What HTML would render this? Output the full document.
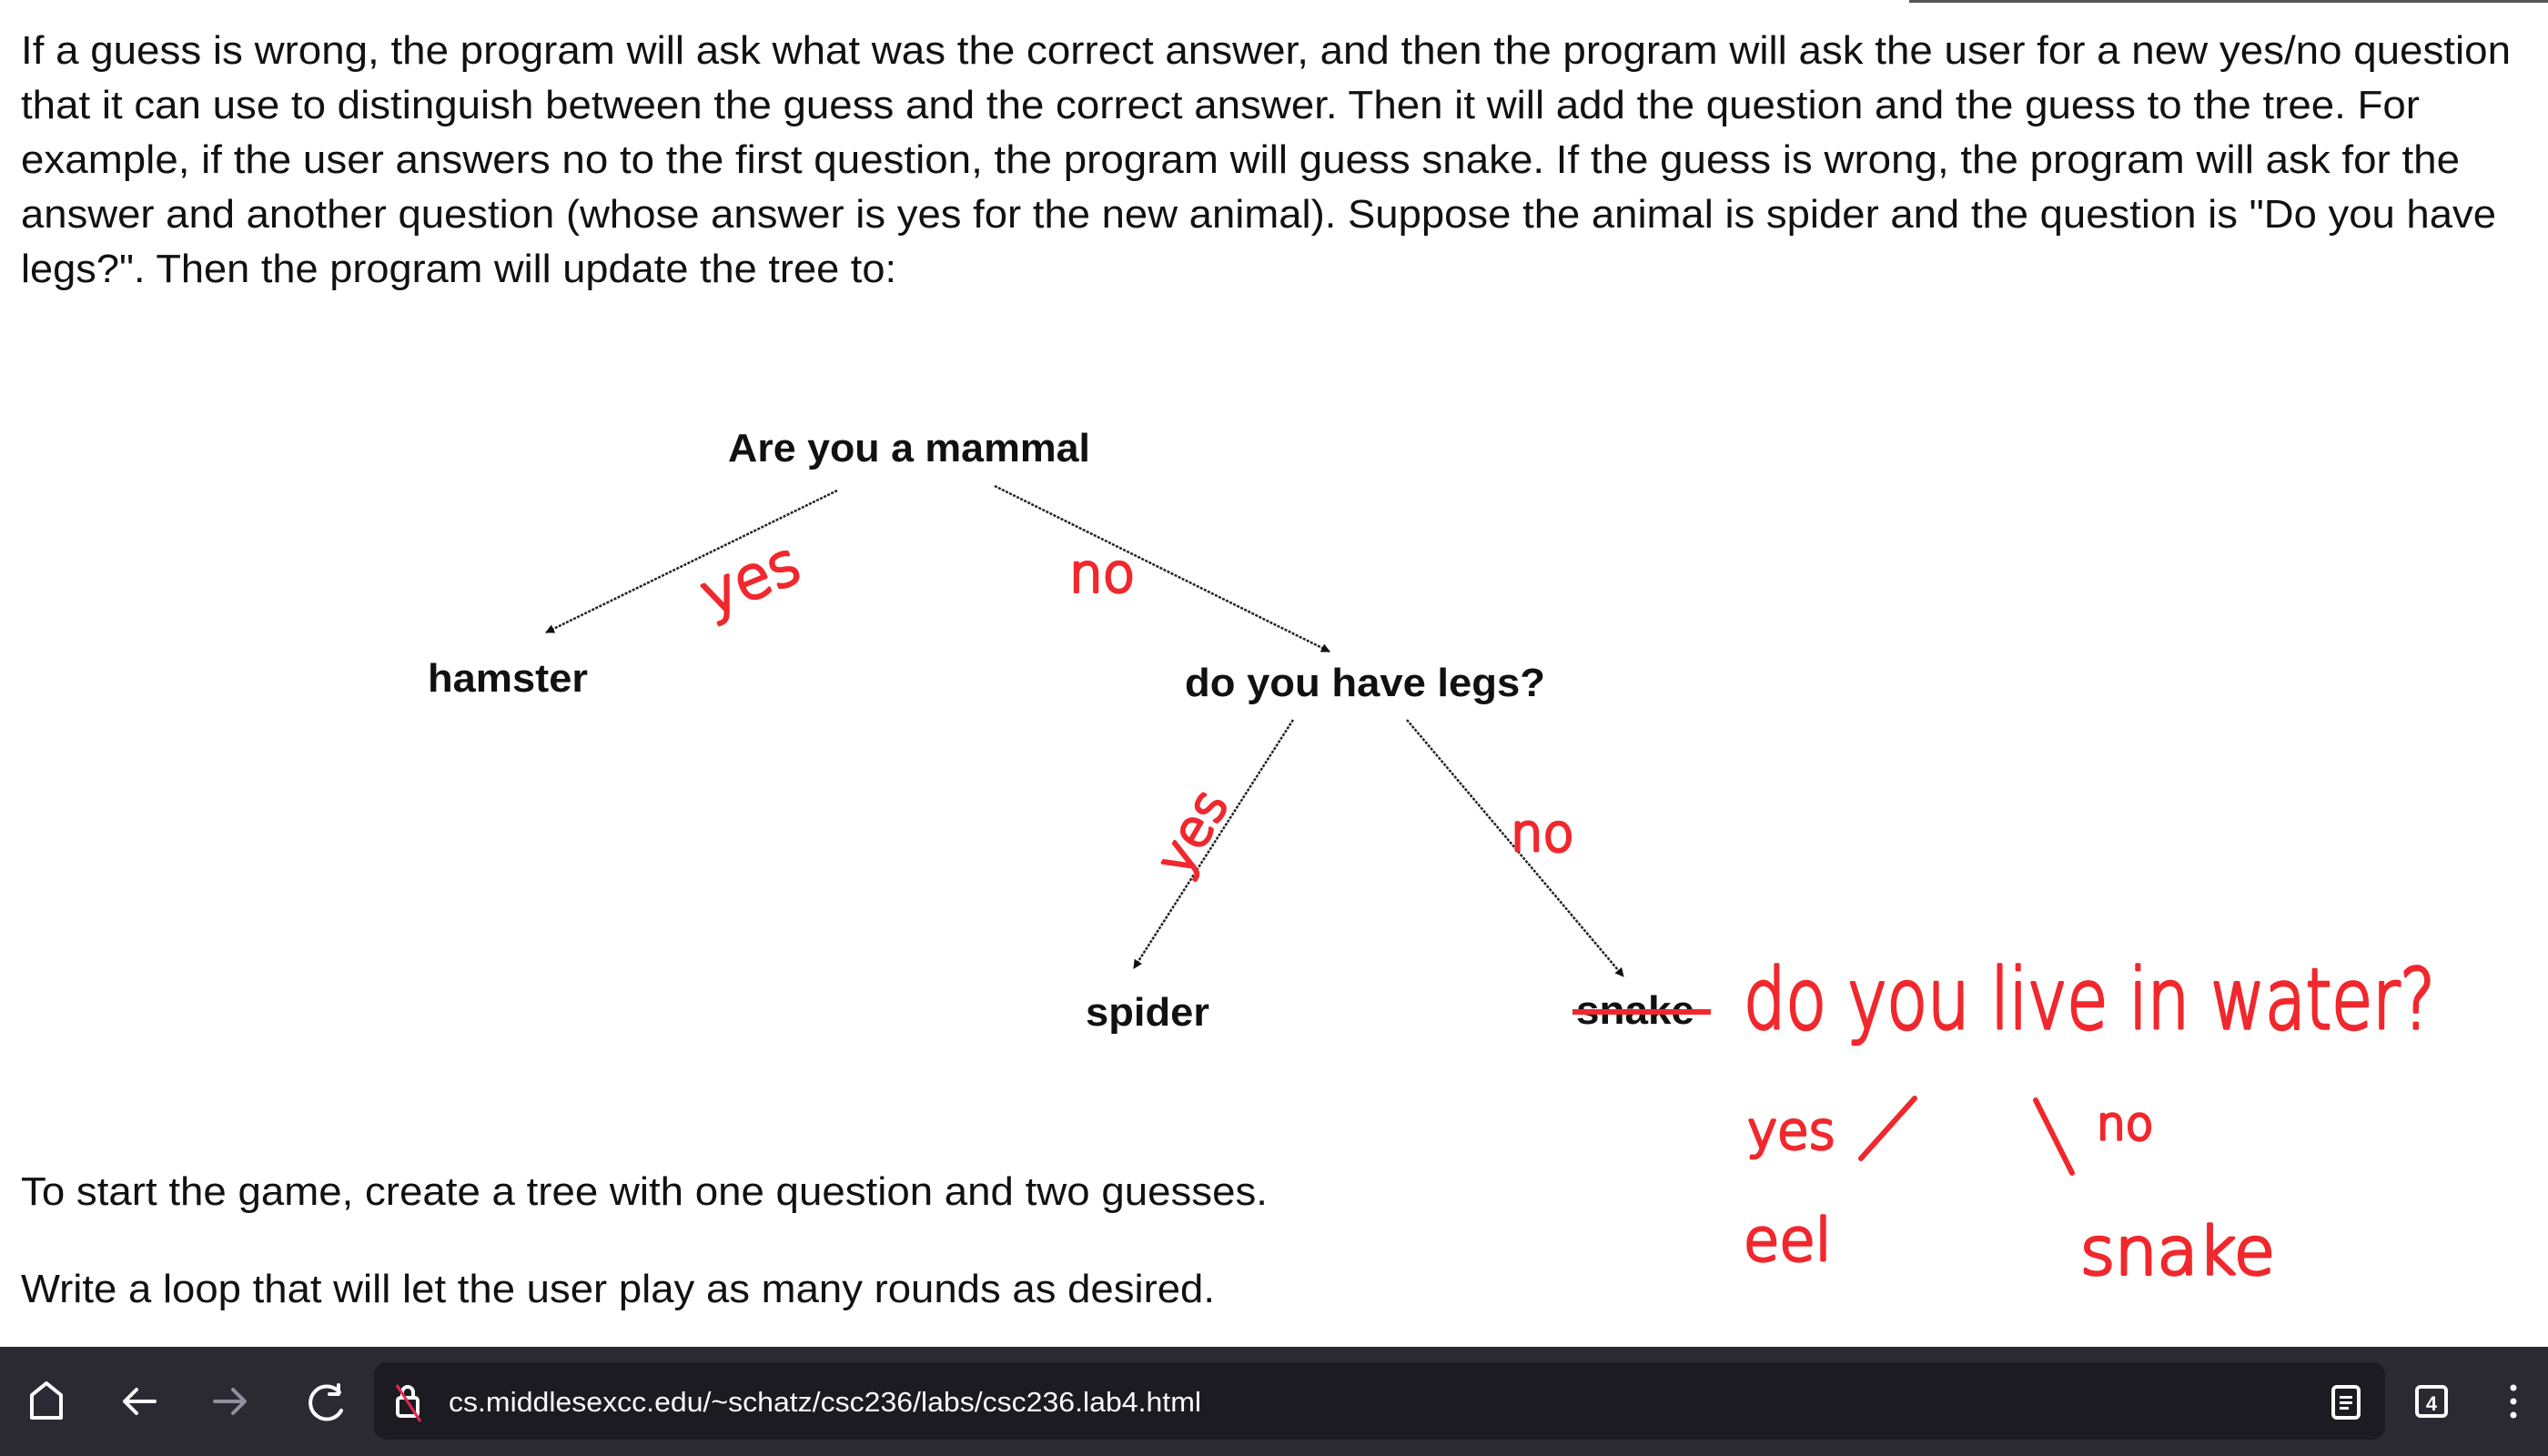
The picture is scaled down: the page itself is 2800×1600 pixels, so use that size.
<!DOCTYPE html>
<html><head><meta charset="utf-8"><style>
html,body{margin:0;padding:0;background:#fff;width:2800px;height:1600px;overflow:hidden}
svg{display:block}
</style></head><body>
<svg width="2800" height="1600" viewBox="0 0 2800 1600" xmlns="http://www.w3.org/2000/svg">
<rect width="2800" height="1600" fill="#fff"/>
<rect x="2098" y="0" width="702" height="3" fill="#555"/>
<g font-family="Liberation Sans, sans-serif" font-size="44" fill="#111">
<text x="23" y="70" textLength="2736" lengthAdjust="spacingAndGlyphs">If a guess is wrong, the program will ask what was the correct answer, and then the program will ask the user for a new yes/no question</text>
<text x="23" y="130" textLength="2636" lengthAdjust="spacingAndGlyphs">that it can use to distinguish between the guess and the correct answer. Then it will add the question and the guess to the tree. For</text>
<text x="23" y="190" textLength="2680" lengthAdjust="spacingAndGlyphs">example, if the user answers no to the first question, the program will guess snake. If the guess is wrong, the program will ask for the</text>
<text x="23" y="250" textLength="2720" lengthAdjust="spacingAndGlyphs">answer and another question (whose answer is yes for the new animal). Suppose the animal is spider and the question is "Do you have</text>
<text x="23" y="310" textLength="962" lengthAdjust="spacingAndGlyphs">legs?". Then the program will update the tree to:</text>
<text x="23" y="1324" textLength="1370" lengthAdjust="spacingAndGlyphs">To start the game, create a tree with one question and two guesses.</text>
<text x="23" y="1431" textLength="1312" lengthAdjust="spacingAndGlyphs">Write a loop that will let the user play as many rounds as desired.</text>
</g>
<g font-family="Liberation Sans, sans-serif" font-weight="bold" font-size="44" fill="#111">
<text x="800" y="507" textLength="398" lengthAdjust="spacingAndGlyphs">Are you a mammal</text>
<text x="470" y="760" textLength="176" lengthAdjust="spacingAndGlyphs">hamster</text>
<text x="1302" y="765" textLength="396" lengthAdjust="spacingAndGlyphs">do you have legs?</text>
<text x="1193" y="1127" textLength="136" lengthAdjust="spacingAndGlyphs">spider</text>
<text x="1732" y="1125" textLength="130" lengthAdjust="spacingAndGlyphs">snake</text>
</g>
<defs><marker id="a" markerWidth="10" markerHeight="10" refX="9" refY="5" orient="auto" markerUnits="userSpaceOnUse"><path d="M0,0 L10,5 L0,10 z" fill="#111"/></marker></defs>
<g stroke="#222" stroke-width="2.5" stroke-dasharray="3 1.5" fill="none" marker-end="url(#a)">
<line x1="920" y1="539" x2="600" y2="695"/>
<line x1="1093" y1="534" x2="1461" y2="716"/>
<line x1="1421" y1="791" x2="1246" y2="1064"/>
<line x1="1546" y1="791" x2="1784" y2="1073"/>
</g>
<g fill="#f0282d" stroke="#f0282d" stroke-width="3.5" stroke-linejoin="round" font-family="DejaVu Sans, sans-serif" font-weight="300">
<line x1="1728" y1="1112" x2="1880" y2="1112" stroke-width="6"/>
<text x="770" y="660" font-size="64" transform="rotate(-22 820 640)">yes</text>
<text x="1175" y="650" font-size="58">no</text>
<text x="1270" y="950" font-size="56" transform="rotate(-60 1300 930)">yes</text>
<text x="1660" y="935" font-size="56">no</text>
<text x="1916" y="1130" font-size="92" textLength="760" lengthAdjust="spacingAndGlyphs">do you live in water?</text>
<text x="1920" y="1262" font-size="56">yes</text>
<text x="2304" y="1252" font-size="50">no</text>
<text x="1916" y="1385" font-size="64">eel</text>
<text x="2286" y="1400" font-size="72" textLength="214" lengthAdjust="spacingAndGlyphs">snake</text>
</g>
<g stroke="#f0282d" stroke-width="6" stroke-linecap="round">
<line x1="2045" y1="1273" x2="2104" y2="1207"/>
<line x1="2237" y1="1209" x2="2277" y2="1289"/>
</g>
<rect x="0" y="1480" width="2800" height="120" fill="#2b2a33"/>
<rect x="411" y="1497" width="2210" height="85" rx="14" fill="#1c1b22"/>
<g stroke="#fbfbfe" stroke-width="4" fill="none" stroke-linecap="round" stroke-linejoin="round">
<path d="M35,1558 V1533 L51,1520 L67,1533 V1558 Z"/>
<path d="M170,1540 H138 M150,1527 L137,1540 L150,1553"/>
<path d="M236,1540 H268 M256,1527 L269,1540 L256,1553" stroke="#8f8f9d"/>
<path d="M373,1530 A18,18 0 1 0 375,1550 M372,1522 V1532 H362"/>
<rect x="437" y="1536" width="22" height="20" rx="3"/>
<path d="M442,1536 V1530 A6,6 0 0 1 454,1530 V1536"/>
<rect x="2564" y="1524" width="28" height="34" rx="4"/>
<rect x="2656" y="1524" width="32" height="32" rx="4"/>
</g>
<line x1="436" y1="1522" x2="462" y2="1562" stroke="#e22850" stroke-width="3"/>
<g fill="#fbfbfe">
<rect x="2571" y="1534" width="14" height="3"/><rect x="2571" y="1540" width="14" height="3"/><rect x="2571" y="1546" width="10" height="3"/>
<circle cx="2762" cy="1525" r="3.5"/><circle cx="2762" cy="1540" r="3.5"/><circle cx="2762" cy="1555" r="3.5"/>
<text x="2672" y="1550" font-family="Liberation Sans, sans-serif" font-size="22" font-weight="bold" text-anchor="middle">4</text>
<text x="493" y="1551" font-family="Liberation Sans, sans-serif" font-size="31" textLength="827" lengthAdjust="spacingAndGlyphs">cs.middlesexcc.edu/~schatz/csc236/labs/csc236.lab4.html</text>
</g>
</svg>
</body></html>
